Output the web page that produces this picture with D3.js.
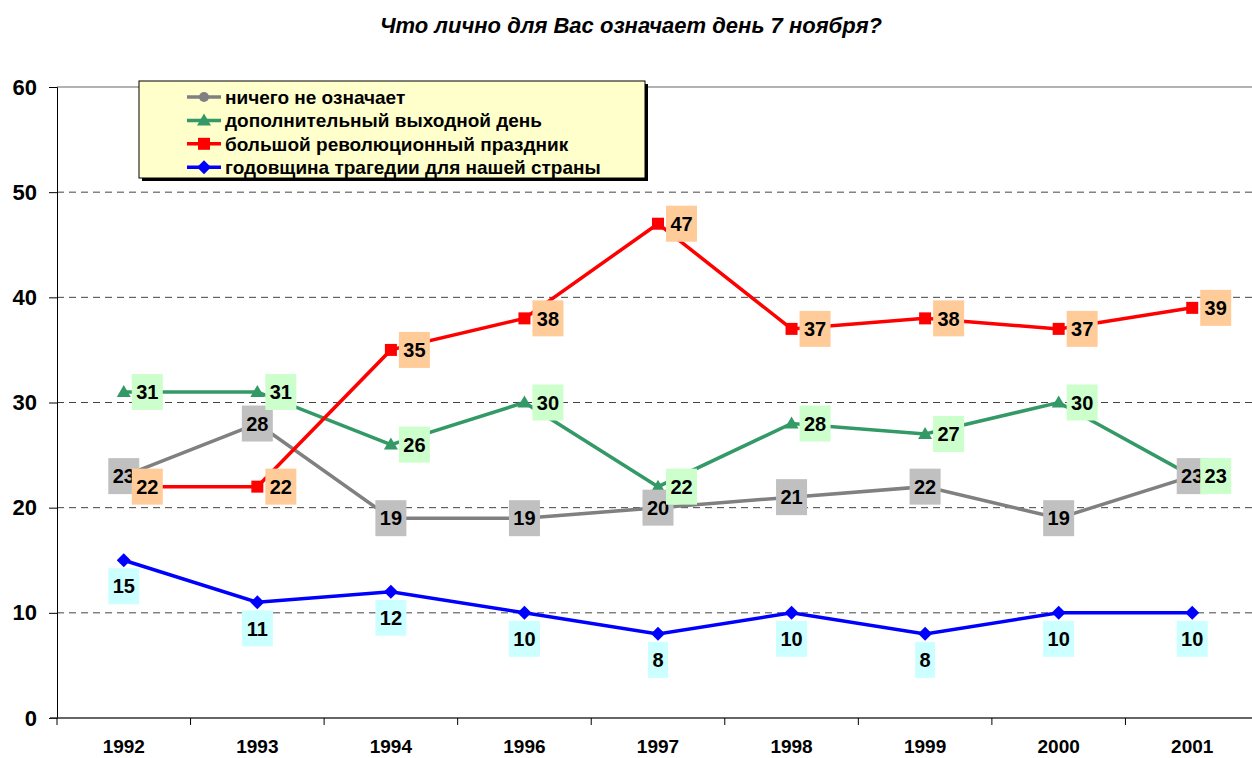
<!DOCTYPE html>
<html lang="ru">
<head>
<meta charset="utf-8">
<script src="https://cdn.jsdelivr.net/npm/d3@7"></script>
<style>
  body { margin: 0; background: #fff; }
  text { font-family: "Liberation Sans", Arial, sans-serif; }
</style>
</head>
<body>
<div id="chart"></div>
<script>
// data
var years = ["1992", "1993", "1994", "1996", "1997", "1998", "1999", "2000", "2001"];
var nothing = [23, 28, 19, 19, 20, 21, 22, 19, 23];
var dayOff = [31, 31, 26, 30, 22, 28, 27, 30, 23];
var holiday = [22, 22, 35, 38, 47, 37, 38, 37, 39];
var tragedy = [15, 11, 12, 10, 8, 10, 8, 10, 10];
var yTicks = [0, 10, 20, 30, 40, 50, 60];

var series = [
  {name: "ничего не означает", values: nothing, color: "#808080", box: "#c0c0c0", marker: "circle", pos: "center"},
  {name: "дополнительный выходной день", values: dayOff, color: "#339966", box: "#ccffcc", marker: "triangle", pos: "right"},
  {name: "большой революционный праздник", values: holiday, color: "#ff0000", box: "#ffcc99", marker: "square", pos: "right"},
  {name: "годовщина трагедии для нашей страны", values: tragedy, color: "#0000ff", box: "#ccffff", marker: "diamond", pos: "below"}
];

var W = 1252, H = 758;
var svg = d3.select("#chart").append("svg").attr("width", W).attr("height", H);

var x = d3.scaleBand().domain(years).range([57, 1259]).padding(0);
var y = d3.scaleLinear().domain([0, 60]).range([718, 87]);
var cx = function (d) { return x(d) + x.bandwidth() / 2; };

// title
svg.append("text")
  .attr("x", 631).attr("y", 33)
  .attr("text-anchor", "middle")
  .style("font-size", "22px").style("font-weight", "bold").style("font-style", "italic")
  .text("Что лично для Вас означает день 7 ноября?");

// gridlines
svg.append("g").selectAll("line")
  .data(yTicks.filter(function (t) { return t > 0; }))
  .enter().append("line")
  .attr("x1", 57).attr("x2", W)
  .attr("y1", function (d) { return y(d); }).attr("y2", function (d) { return y(d); })
  .attr("stroke", function (d) { return d === 60 ? "#999" : "#444"; })
  .attr("stroke-width", function (d) { return d === 60 ? 1.5 : 1; })
  .attr("stroke-dasharray", function (d) { return d === 60 ? null : "7,5"; });

// y axis
var yAxis = svg.append("g").attr("transform", "translate(57,0)")
  .call(d3.axisLeft(y).tickValues(yTicks).tickSize(8).tickPadding(12));
yAxis.select(".domain").attr("stroke", "#000");
yAxis.selectAll("text").style("font-size", "22px").style("font-weight", "bold")
  .style("font-family", "Liberation Sans, Arial, sans-serif").attr("fill", "#000");

// x axis
var xg = svg.append("g");
xg.append("line").attr("x1", 50).attr("x2", W).attr("y1", y(0)).attr("y2", y(0))
  .attr("stroke", "#333").attr("stroke-width", 1.5);
xg.selectAll(".xt").data(years).enter().append("line")
  .attr("x1", function (d) { return x(d); }).attr("x2", function (d) { return x(d); })
  .attr("y1", y(0)).attr("y2", y(0) + 7).attr("stroke", "#000");
xg.selectAll(".xl").data(years).enter().append("text")
  .attr("x", cx).attr("y", 753)
  .attr("text-anchor", "middle")
  .style("font-size", "19px").style("font-weight", "bold")
  .text(function (d) { return d; });

function marker(sel, type, color) {
  if (type === "circle") {
    sel.append("circle").attr("r", 5).attr("fill", color);
  } else if (type === "triangle") {
    sel.append("path").attr("d", "M0,-7L7,5L-7,5Z").attr("fill", color);
  } else if (type === "square") {
    sel.append("rect").attr("x", -6).attr("y", -6).attr("width", 12).attr("height", 12).attr("fill", color);
  } else {
    sel.append("path").attr("d", "M0,-7L7,0L0,7L-7,0Z").attr("fill", color);
  }
}

var line = d3.line()
  .x(function (d, i) { return cx(years[i]); })
  .y(function (d) { return y(d); });

// lines + markers
series.forEach(function (s) {
  svg.append("path").datum(s.values)
    .attr("d", line).attr("fill", "none")
    .attr("stroke", s.color).attr("stroke-width", 3.5);
  svg.append("g").selectAll("g").data(s.values).enter().append("g")
    .attr("transform", function (d, i) { return "translate(" + cx(years[i]) + "," + y(d) + ")"; })
    .each(function () { marker(d3.select(this), s.marker, s.color); });
});

// value labels
series.forEach(function (s) {
  var g = svg.append("g").selectAll("g").data(s.values).enter().append("g")
    .attr("transform", function (d, i) { return "translate(" + cx(years[i]) + "," + y(d) + ")"; });
  g.each(function (d) {
    var el = d3.select(this);
    var tw = String(d).length * 11;
    var bw = tw + 9, bh = 36;
    var bx, by;
    if (s.pos === "right") { bx = 8; by = -bh / 2; }
    else if (s.pos === "below") { bx = -bw / 2; by = 8; }
    else { bx = -bw / 2; by = -bh / 2; }
    el.append("rect").attr("x", bx).attr("y", by).attr("width", bw).attr("height", bh)
      .attr("fill", s.box);
    el.append("text").attr("x", bx + bw / 2).attr("y", by + bh / 2).attr("dy", "0.36em")
      .attr("text-anchor", "middle")
      .style("font-size", "20px").style("font-weight", "bold")
      .text(d);
  });
});

// legend
var lg = svg.append("g");
lg.append("rect").attr("x", 142).attr("y", 84).attr("width", 506).attr("height", 97).attr("fill", "#000");
lg.append("rect").attr("x", 139).attr("y", 81).attr("width", 506).attr("height", 97)
  .attr("fill", "#ffffcc").attr("stroke", "#000").attr("stroke-width", 1);
series.forEach(function (s, i) {
  var ry = 97 + i * 23.4;
  lg.append("line").attr("x1", 187).attr("x2", 221).attr("y1", ry).attr("y2", ry)
    .attr("stroke", s.color).attr("stroke-width", 3.5);
  var m = lg.append("g").attr("transform", "translate(204," + ry + ")");
  marker(m, s.marker, s.color);
  lg.append("text").attr("x", 225).attr("y", ry).attr("dy", "0.36em")
    .style("font-size", "19px").style("font-weight", "bold")
    .text(s.name);
});
</script>
</body>
</html>
